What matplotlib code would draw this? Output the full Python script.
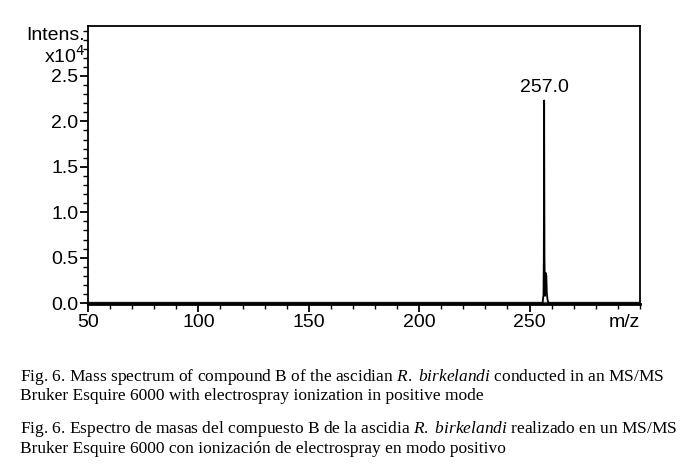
import matplotlib.pyplot as plt
from matplotlib.ticker import MultipleLocator

# Spectrum (m/z vs intensity in units of 1e4).
mz = [50.0, 255.9, 256.1, 256.3, 256.45, 256.6, 256.75, 257.0, 257.2, 257.4, 257.6, 257.8, 258.1, 258.6, 300.0]
intensity = [0.0, 0.0, 0.05, 0.09, 0.5, 2.23, 0.5, 0.08, 0.22, 0.33, 0.3, 0.12, 0.04, 0.0, 0.0]

peak_mz = 256.6
peak_int = 2.23
peak_label = "257.0"

x_ticks = [50, 100, 150, 200, 250]
y_ticks = [0.0, 0.5, 1.0, 1.5, 2.0, 2.5]

caption_en = ("Fig. 6. Mass spectrum of compound B of the ascidian $\\it{R.\\ birkelandi}$ "
              "conducted in an MS/MS\nBruker Esquire 6000 with electrospray ionization in positive mode")
caption_es = ("Fig. 6. Espectro de masas del compuesto B de la ascidia $\\it{R.\\ birkelandi}$ "
              "realizado en un MS/MS\nBruker Esquire 6000 con ionización de electrospray en modo positivo")

plt.rcParams.update({
    "font.family": "Liberation Sans",
    "mathtext.fontset": "custom",
    "mathtext.rm": "Liberation Serif",
    "mathtext.it": "Liberation Serif:italic",
})

fig = plt.figure(figsize=(6.96, 4.66), dpi=100)
ax = fig.add_axes([0.1264, 0.3476, 0.7931, 0.5966])

ax.plot(mz, intensity, color="black", lw=1.3)
ax.axhline(0, color="#555555", lw=2.5, zorder=1)
ax.text(peak_mz, peak_int + 0.05, peak_label, ha="center", va="bottom", fontsize=14)

ax.set_xlim(50, 300)
ax.set_ylim(-0.01, 3.05)
ax.set_xticks(x_ticks)
ax.set_yticks(y_ticks)
ax.set_yticklabels([f"{v:.1f}" for v in y_ticks])
ax.xaxis.set_minor_locator(MultipleLocator(10))
ax.yaxis.set_minor_locator(MultipleLocator(0.1))
ax.tick_params(which="major", direction="out", length=6, width=1.3, labelsize=14, pad=1)
ax.tick_params(which="minor", direction="out", length=3.5, width=1.0)
for s in ax.spines.values():
    s.set_linewidth(1.3)
ax.spines["bottom"].set_linewidth(2)

# axis labels in the instrument style
ax.text(-0.005, 2.95, "Intens.", transform=ax.get_yaxis_transform(), ha="right", va="center", fontsize=14)
ax.text(-0.005, 2.72, "x10$^4$", transform=ax.get_yaxis_transform(), ha="right", va="center", fontsize=14,
        math_fontfamily="dejavusans")
ax.text(1.0, -0.035, "m/z", transform=ax.transAxes, ha="right", va="top", fontsize=14)

fig.text(0.029, 0.213, caption_en, fontsize=12.5, family="Liberation Serif", va="top", linespacing=1.1)
fig.text(0.029, 0.100, caption_es, fontsize=12.5, family="Liberation Serif", va="top", linespacing=1.1)

fig.savefig("out.png", dpi=100)
